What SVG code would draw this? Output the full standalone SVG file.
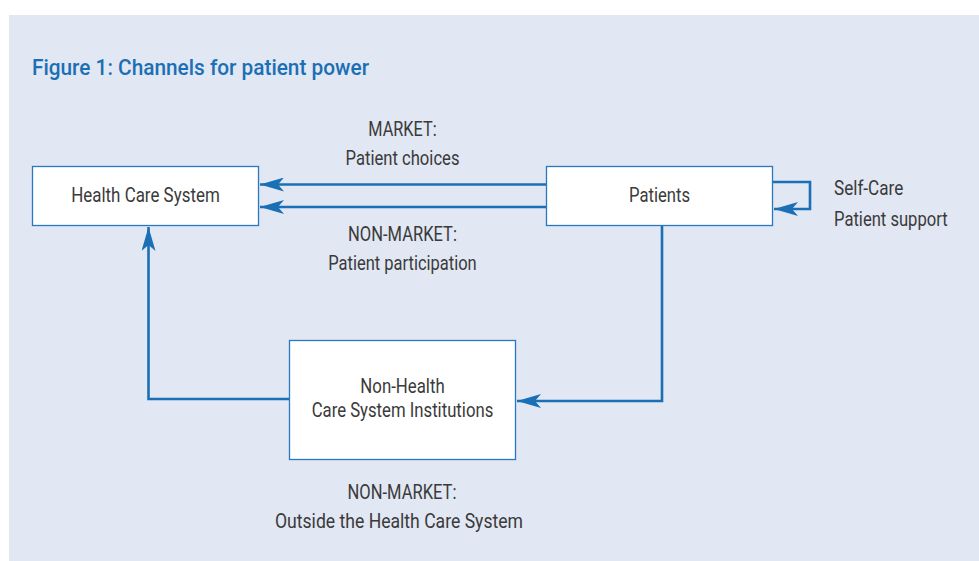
<svg xmlns="http://www.w3.org/2000/svg" width="979" height="561" viewBox="0 0 979 561">
<defs>
<style>
.t{font-family:"Roboto","Liberation Sans",sans-serif;font-size:19.5px;fill:#3a3a3a;}
.c{text-anchor:middle;}
.box{fill:#ffffff;stroke:#2a78c0;stroke-width:1.3;}
.ln{fill:none;stroke:#1a6fb5;stroke-width:2.6;}
</style>
<marker id="ah" viewBox="0 0 24 14" refX="24" refY="7" markerWidth="24" markerHeight="14" markerUnits="userSpaceOnUse" orient="auto">
<path d="M0,0 L24,7 L0,14 L6,7 Z" fill="#1a6fb5"/>
</marker>
</defs>
<rect x="9" y="15" width="970" height="546" fill="#e1e7f3"/>
<text x="32" y="75" textLength="337" lengthAdjust="spacingAndGlyphs" style="font-family:'Roboto','Liberation Sans',sans-serif;font-size:22px;font-weight:500;fill:#1a6fb5">Figure 1: Channels for patient power</text>
<g id="connectors">
<path class="ln" d="M546,184.5 L260,184.5" marker-end="url(#ah)"/>
<path class="ln" d="M546,207 L260,207" marker-end="url(#ah)"/>
<path class="ln" d="M772,182 L810,182 L810,209 L774,209" marker-end="url(#ah)"/>
<path class="ln" d="M662,226 L662,401 L517,401" marker-end="url(#ah)"/>
<path class="ln" d="M289,399 L148.5,399 L148.5,227" marker-end="url(#ah)"/>
</g>
<g id="health-care-system">
<rect class="box" x="32.5" y="166.5" width="226" height="59"/>
<text class="t c" x="145.5" y="201.5" textLength="148.6" lengthAdjust="spacingAndGlyphs">Health Care System</text>
</g>
<g id="patients">
<rect class="box" x="546.5" y="166.5" width="226" height="59"/>
<text class="t c" x="659.5" y="201.5" textLength="61" lengthAdjust="spacingAndGlyphs">Patients</text>
</g>
<g id="non-health">
<rect class="box" x="289.5" y="340.5" width="226" height="119"/>
<text class="t c" x="402.5" y="392.5" textLength="84.3" lengthAdjust="spacingAndGlyphs">Non-Health</text>
<text class="t c" x="402.5" y="417" textLength="181.6" lengthAdjust="spacingAndGlyphs">Care System Institutions</text>
</g>
<g id="labels">
<text class="t c" x="402.5" y="135.5" textLength="68.4" lengthAdjust="spacingAndGlyphs">MARKET:</text>
<text class="t c" x="402.5" y="165" textLength="114" lengthAdjust="spacingAndGlyphs">Patient choices</text>
<text class="t c" x="402.5" y="241" textLength="109" lengthAdjust="spacingAndGlyphs">NON-MARKET:</text>
<text class="t c" x="402.5" y="269.5" textLength="148.4" lengthAdjust="spacingAndGlyphs">Patient participation</text>
<text class="t" x="834" y="195" textLength="69.3" lengthAdjust="spacingAndGlyphs">Self-Care</text>
<text class="t" x="834" y="225.7" textLength="113.7" lengthAdjust="spacingAndGlyphs">Patient support</text>
<text class="t c" x="402" y="499" textLength="109" lengthAdjust="spacingAndGlyphs">NON-MARKET:</text>
<text class="t c" x="399" y="528" textLength="248" lengthAdjust="spacingAndGlyphs">Outside the Health Care System</text>
</g>
</svg>
